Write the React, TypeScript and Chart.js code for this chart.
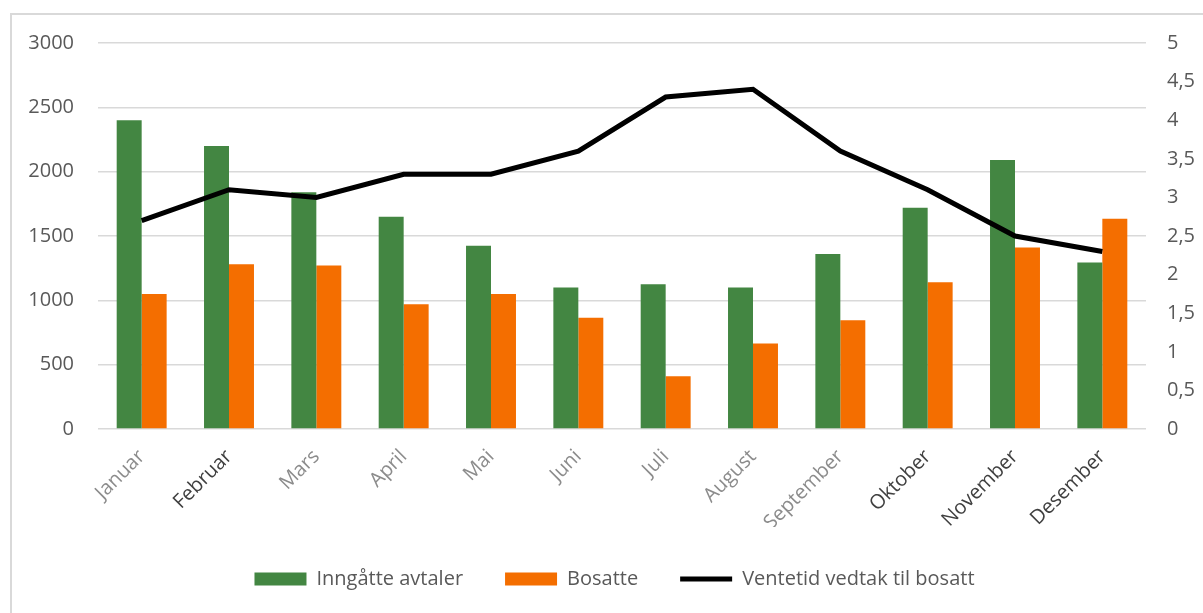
import React, { useEffect, useRef } from "react";
import { Chart, registerables } from "chart.js";

Chart.register(...registerables);

const categories = ["Januar", "Februar", "Mars", "April", "Mai", "Juni", "Juli", "August", "September", "Oktober", "November", "Desember"];
const inngatteAvtaler = [2400, 2200, 1840, 1650, 1425, 1100, 1125, 1100, 1360, 1720, 2090, 1295];
const bosatte = [1050, 1280, 1270, 970, 1050, 865, 410, 665, 845, 1140, 1410, 1635];
const ventetid = [2.7, 3.1, 3.0, 3.3, 3.3, 3.6, 4.3, 4.4, 3.6, 3.1, 2.5, 2.3];
const darkLabels = ["Februar", "Oktober", "November", "Desember"];

const FONT = "'Open Sans', 'Noto Sans', sans-serif";

export default function App() {
  const ref = useRef<HTMLCanvasElement | null>(null);

  useEffect(() => {
    if (!ref.current) return;
    const chart = new Chart(ref.current, {
      type: "bar",
      data: {
        labels: categories,
        datasets: [
          {
            type: "bar",
            label: "Inngåtte avtaler",
            data: inngatteAvtaler,
            backgroundColor: "#438642",
            borderWidth: 0,
            yAxisID: "y",
            order: 1,
            pointStyle: "rect",
            categoryPercentage: 0.572,
            barPercentage: 1,
          } as any,
          {
            type: "bar",
            label: "Bosatte",
            data: bosatte,
            backgroundColor: "#f46e00",
            borderWidth: 0,
            yAxisID: "y",
            order: 1,
            pointStyle: "rect",
            categoryPercentage: 0.572,
            barPercentage: 1,
          } as any,
          {
            type: "line",
            label: "Ventetid vedtak til bosatt",
            data: ventetid,
            borderColor: "#000000",
            backgroundColor: "#000000",
            borderWidth: 5,
            pointRadius: 0,
            pointStyle: "line",
            pointBorderWidth: 5,
            pointBorderColor: "#000000",
            pointBackgroundColor: "#000000",
            tension: 0,
            yAxisID: "y2",
            order: 0,
          } as any,
        ],
      },
      options: {
        responsive: false,
        animation: false,
        layout: { padding: { left: 28, right: 2, top: 43, bottom: 14 } },
        plugins: {
          tooltip: { enabled: false },
          legend: {
            position: "bottom",
            labels: {
              usePointStyle: true,
              pointStyleWidth: 52,
              boxHeight: 13,
              padding: 42,
              color: "#595959",
              font: { family: FONT, size: 20 },
              sort: (a: any, b: any) => a.datasetIndex - b.datasetIndex,
            },
          },
        },
        scales: {
          x: {
            offset: true,
            grid: { display: false, drawTicks: false },
            border: { display: false },
            ticks: {
              autoSkip: false,
              minRotation: 45,
              maxRotation: 45,
              padding: 16,
              font: { family: FONT, size: 20 },
              color: (ctx: any) => (darkLabels.includes(categories[ctx.index]) ? "#404040" : "#8c8c8c"),
            },
            afterFit: (scale: any) => {
              scale.height = 98;
              scale.paddingLeft = 0;
              scale.paddingRight = 0;
            },
          },
          y: {
            position: "left",
            min: 0,
            max: 3000,
            grid: { color: "#d9d9d9", lineWidth: 1.5, drawTicks: false },
            border: { display: false },
            ticks: {
              stepSize: 500,
              padding: 24,
              color: "#595959",
              font: { family: FONT, size: 20 },
              callback: (v: any) => String(v),
            },
            afterFit: (scale: any) => {
              scale.width = 70;
            },
          },
          y2: {
            position: "right",
            min: 0,
            max: 5,
            grid: { display: false, drawTicks: false },
            border: { display: false },
            ticks: {
              stepSize: 0.5,
              padding: 21,
              color: "#595959",
              font: { family: FONT, size: 20 },
              callback: (v: any) => String(v).replace(".", ","),
            },
            afterFit: (scale: any) => {
              scale.width = 55;
            },
          },
        },
      } as any,
    });
    return () => chart.destroy();
  }, []);

  return (
    <>
      <div
        style={{
          position: "absolute",
          left: 10,
          top: 13,
          width: 1193,
          height: 600,
          borderLeft: "2px solid #d9d9d9",
          borderTop: "2px solid #d9d9d9",
          boxSizing: "border-box",
        }}
      />
      <canvas
        ref={ref}
        width={1203}
        height={613}
        style={{ position: "absolute", left: 0, top: 0, width: 1203, height: 613 }}
      />
    </>
  );
}
